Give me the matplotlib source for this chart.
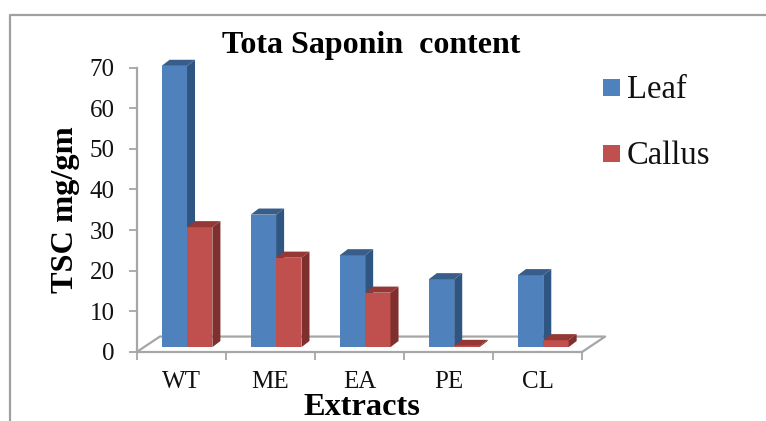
import matplotlib
matplotlib.use("Agg")
import matplotlib.pyplot as plt
from matplotlib.patches import Polygon, Rectangle

plt.rcParams["font.family"] = ["Liberation Serif", "DejaVu Serif"]

# values
categories = ["WT", "ME", "EA", "PE", "CL"]
leaf = [69.2, 32.6, 22.6, 16.7, 17.7]
callus = [29.5, 22.0, 13.4, 0.3, 1.7]
yticks = [0, 10, 20, 30, 40, 50, 60, 70]

W, H = 766, 421
GRAY = "#a6a6a6"
LEAF = ("#4f81bd", "#2f5583", "#385d8a")   # front, side, top
CALLUS = ("#c0504d", "#7f2f2d", "#953735")

fig = plt.figure(figsize=(W / 100, H / 100), dpi=100)
ax = fig.add_axes([136.7 / W, (H - 352) / H, (582 - 136.7) / W, (352 - 67.5) / H])
ax.set_xlim(0, 5)
ax.set_ylim(0, 70)
ax.patch.set_alpha(0)

# 3d look: offsets in data units
base = 1.2
bar_w = 0.285
dx, dy = 0.09, 1.5
floor_dx, floor_dy = 0.26, 3.8


def bar3d(x, val, cols):
    top = base + val
    ax.bar(x, val, bar_w, bottom=base, align="edge", color=cols[0], zorder=3, clip_on=False)
    side = [(x + bar_w, base), (x + bar_w + dx, base + dy), (x + bar_w + dx, top + dy), (x + bar_w, top)]
    roof = [(x, top), (x + dx, top + dy), (x + bar_w + dx, top + dy), (x + bar_w, top)]
    ax.add_patch(Polygon(side, color=cols[1], lw=0, zorder=3, clip_on=False))
    ax.add_patch(Polygon(roof, color=cols[2], lw=0, zorder=3, clip_on=False))


for i in range(len(categories)):
    bar3d(i + 0.28, leaf[i], LEAF)
    bar3d(i + 0.28 + bar_w, callus[i], CALLUS)

# floor
ax.plot([0, floor_dx, 5 + floor_dx, 5], [0, floor_dy, floor_dy, 0], color=GRAY, lw=1.6, zorder=1, clip_on=False)

for s in ["top", "right"]:
    ax.spines[s].set_visible(False)
for s in ["left", "bottom"]:
    ax.spines[s].set_color(GRAY)
    ax.spines[s].set_linewidth(1.6)

ax.set_yticks(yticks)
ax.tick_params(axis="y", colors=GRAY, labelcolor="#111111", labelsize=18, length=6, width=1.3, pad=10)
ax.set_xticks(range(6))
ax.set_xticklabels([])
ax.tick_params(axis="x", which="major", colors=GRAY, length=6, width=1.3)
ax.set_xticks([i + 0.5 for i in range(5)], minor=True)
ax.set_xticklabels(categories, minor=True, fontsize=18, color="#111111")
ax.tick_params(axis="x", which="minor", length=0, pad=14)

fig.text(371 / W, 1 - 46 / H, "Tota Saponin  content", fontsize=23, fontweight="bold", ha="center", va="center")
fig.text(66 / W, 1 - 210 / H, "TSC mg/gm", fontsize=23.3, fontweight="bold", rotation=90, ha="center", va="center")
fig.text(362 / W, 1 - 407.5 / H, "Extracts", fontsize=23.3, fontweight="bold", ha="center", va="center")

# legend
for name, col, py in [("Leaf", LEAF[0], 87.5), ("Callus", CALLUS[0], 153.5)]:
    fig.add_artist(Rectangle((603 / W, 1 - (py + 8.5) / H), 17 / W, 17 / H, color=col, lw=0, transform=fig.transFigure))
    fig.text(627 / W, 1 - (py + 2) / H, name, fontsize=23.5, color="#111111", ha="left", va="center")

# frame of the chart area
fig.add_artist(plt.Line2D([9.5 / W, 9.5 / W, 1], [0, 1 - 14.5 / H, 1 - 14.5 / H], color="#a0a0a0", lw=1.6))

fig.savefig("out.png", dpi=100)
